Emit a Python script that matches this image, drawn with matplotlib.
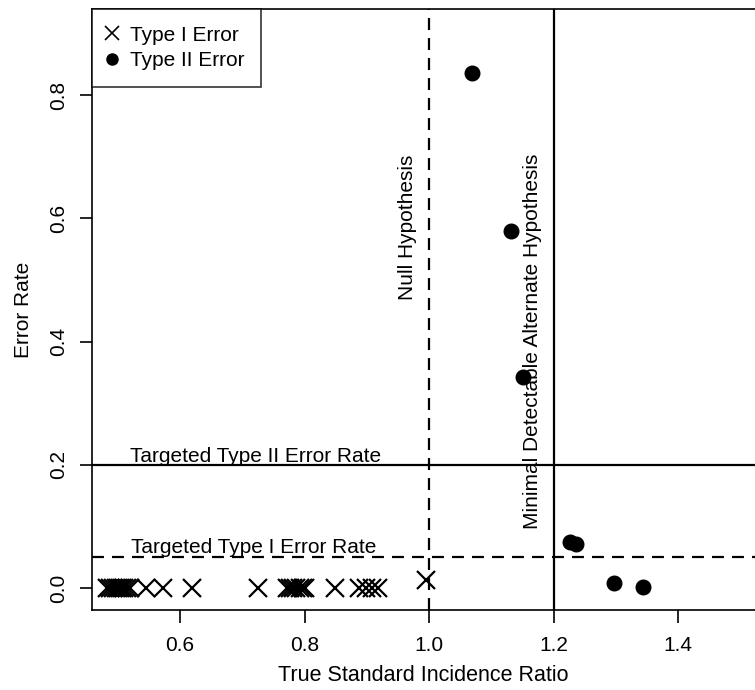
import matplotlib
matplotlib.use("Agg")
import matplotlib.pyplot as plt
from matplotlib.lines import Line2D

plt.rcParams["font.family"] = ["Liberation Sans", "DejaVu Sans"]
plt.rcParams["lines.scale_dashes"] = False

# Type I error points (true SIR, error rate)
type1_x = [0.483, 0.488, 0.493, 0.497, 0.500, 0.503, 0.507, 0.510, 0.515, 0.520,
           0.545, 0.573, 0.619, 0.725,
           0.772, 0.777, 0.782, 0.787, 0.792, 0.797, 0.801,
           0.849, 0.888, 0.898, 0.908, 0.918, 0.995]
type1_y = [0.0] * 26 + [0.013]

# Type II error points
type2_x = [1.069, 1.131, 1.151, 1.226, 1.236, 1.297, 1.344]
type2_y = [0.836, 0.580, 0.343, 0.075, 0.071, 0.008, 0.002]

null_sir = 1.0
alt_sir = 1.2
target_t1 = 0.05
target_t2 = 0.2

xticks = [0.6, 0.8, 1.0, 1.2, 1.4]
yticks = [0.0, 0.2, 0.4, 0.6, 0.8]

FS = 15
fig = plt.figure(figsize=(7.55, 6.9), dpi=100)
ax = fig.add_axes([92 / 755, 80 / 690, 1 - 92 / 755, (610 - 9) / 690])

ax.plot(type1_x, type1_y, linestyle="none", marker="x", markersize=13,
        markeredgewidth=1.6, color="black")
ax.plot(type2_x, type2_y, linestyle="none", marker="o", markersize=10.5,
        color="black")

dash = (8.6, 5.8)
ax.axvline(null_sir, color="black", lw=1.6, linestyle=(0, dash))
ax.axvline(alt_sir, color="black", lw=1.6)
ax.axhline(target_t2, color="black", lw=1.6)
ax.axhline(target_t1, color="black", lw=1.6, linestyle=(0, dash))

ax.text(0.966, 0.586, "Null Hypothesis", rotation=90, ha="center", va="center",
        fontsize=FS)
ax.text(1.167, 0.40, "Minimal Detectable Alternate Hypothesis", rotation=90,
        ha="center", va="center", fontsize=FS)
ax.text(0.722, 0.213, "Targeted Type II Error Rate", ha="center", va="center",
        fontsize=FS)
ax.text(0.718, 0.065, "Targeted Type I Error Rate", ha="center", va="center",
        fontsize=FS)

ax.set_xlim(0.4586, 1.5237)
ax.set_ylim(-0.0357, 0.940)
ax.set_xticks(xticks)
ax.set_yticks(yticks)
ax.set_xticklabels([f"{t:.1f}" for t in xticks], fontsize=FS)
ax.set_yticklabels([f"{t:.1f}" for t in yticks], fontsize=FS, rotation=90,
                   va="center")
ax.tick_params(direction="out", length=9, width=1.2, pad=10)
ax.tick_params(axis="y", pad=8)
ax.spines["right"].set_visible(False)
for s in ["left", "top", "bottom"]:
    ax.spines[s].set_linewidth(1.2)

ax.set_xlabel("True Standard Incidence Ratio", fontsize=15.5, labelpad=7)
ax.set_ylabel("Error Rate", fontsize=FS, labelpad=12)

handles = [
    Line2D([], [], linestyle="none", marker="x", markersize=10,
           markeredgewidth=1.2, color="black", label="Type I Error"),
    Line2D([], [], linestyle="none", marker="o", markersize=8, color="black",
           label="Type II Error"),
]
leg = ax.legend(handles=handles, loc="upper left", fontsize=FS, frameon=True,
                fancybox=False, edgecolor="black", borderaxespad=0,
                handlelength=0.3, handletextpad=0.7, borderpad=0.8,
                labelspacing=0.3)
leg.get_frame().set_linewidth(1.2)

fig.savefig("out.png", dpi=100)
